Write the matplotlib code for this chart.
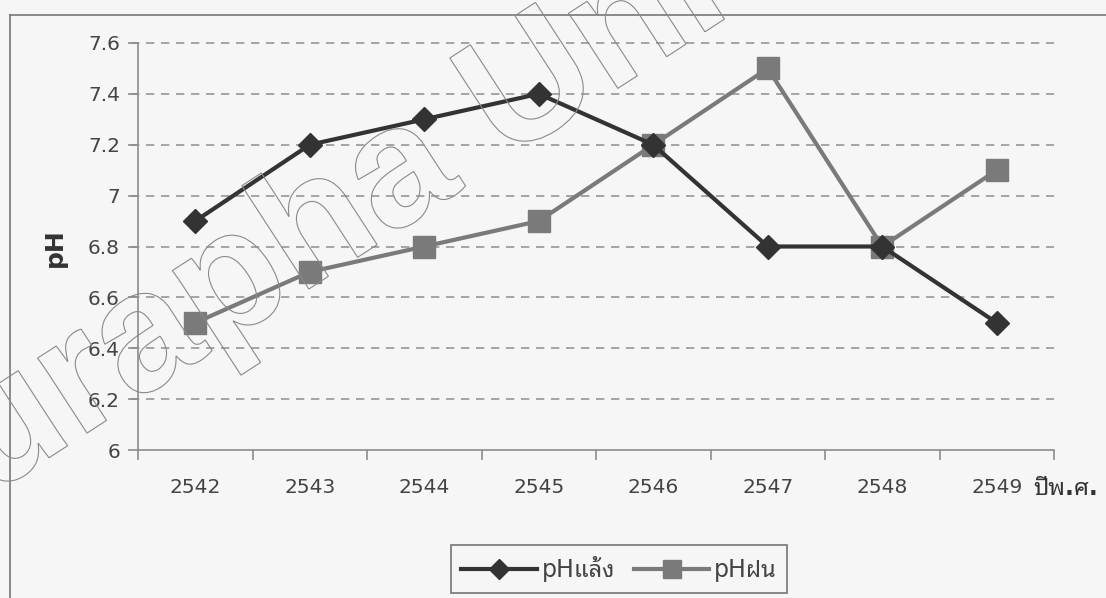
import matplotlib
matplotlib.use("Agg")
import matplotlib.pyplot as plt
from matplotlib import font_manager
from matplotlib.textpath import TextPath
from matplotlib.patches import PathPatch
from matplotlib.font_manager import FontProperties
import matplotlib.transforms as mtransforms

# ── Données ────────────────────────────────────────────────────────────
years = ["2542", "2543", "2544", "2545", "2546", "2547", "2548", "2549"]
ph_dry = [6.9, 7.2, 7.3, 7.4, 7.2, 6.8, 6.8, 6.5]     # pHแล้ง
ph_rain = [6.5, 6.7, 6.8, 6.9, 7.2, 7.5, 6.8, 7.1]    # pHฝน
yticks = [6, 6.2, 6.4, 6.6, 6.8, 7, 7.2, 7.4, 7.6]
ytick_labels = ["6", "6.2", "6.4", "6.6", "6.8", "7", "7.2", "7.4", "7.6"]

# police thaï : première famille installée dans la liste
installed = {f.name for f in font_manager.fontManager.ttflist}
thai = next((n for n in ["Noto Sans Thai Looped", "Sarabun", "Noto Sans Thai",
                         "Athiti", "Bai Jamjuree"] if n in installed), "DejaVu Sans")
FAM = ["DejaVu Sans", thai]

TXT = "#444444"
AX = "#8c8c8c"
W, H = 1106, 598

fig = plt.figure(figsize=(W / 100, H / 100), dpi=100)
fig.patch.set_facecolor("#f6f6f6")

# cadre extérieur (coupé à droite et en bas)
fig.add_artist(plt.Line2D([10 / W, 10 / W], [0, 1 - 15 / H],
                          transform=fig.transFigure, color="#777777", lw=1.2))
fig.add_artist(plt.Line2D([10 / W, 1], [1 - 15 / H, 1 - 15 / H],
                          transform=fig.transFigure, color="#777777", lw=1.2))

ax = fig.add_axes([138 / W, 148 / H, 916 / W, 407 / H])
ax.set_facecolor("none")
x = list(range(len(years)))

ax.plot(x, ph_dry, color="#333333", lw=3, marker="D", ms=12.5,
        label="pHแล้ง", zorder=4)
ax.plot(x, ph_rain, color="#7a7a7a", lw=3, marker="s", ms=16,
        label="pHฝน", zorder=3)

ax.set_xlim(-0.5, len(years) - 0.5)
ax.set_ylim(6, 7.6)
ax.set_yticks(yticks)
ax.set_yticklabels(ytick_labels)
for yv in yticks[1:]:
    ax.axhline(yv, xmin=-0.008, color="#969696", lw=1.2, ls=(0, (5, 4)),
               clip_on=False, zorder=1)

# graduations x aux frontières, libellés au centre
ax.set_xticks([i - 0.5 for i in range(len(years) + 1)])
ax.set_xticklabels([])
ax.set_xticks(x, minor=True)
ax.set_xticklabels(years, minor=True)
ax.tick_params(axis="x", which="major", length=7, width=1.2, color=AX, direction="out")
ax.tick_params(axis="x", which="minor", length=0, pad=20, labelsize=14.5, labelcolor=TXT)
ax.tick_params(axis="y", length=7, width=1.2, color=AX, pad=6,
               labelsize=14.5, labelcolor=TXT)

for s in ["top", "right"]:
    ax.spines[s].set_visible(False)
for s in ["left", "bottom"]:
    ax.spines[s].set_color(AX)
    ax.spines[s].set_linewidth(1.2)

fig.text(55 / W, 1 - 248 / H, "pH", rotation=90, ha="center", va="center",
         fontsize=18, fontweight="bold", color="#333333")
fig.text(1033 / W, 1 - 488 / H, "ปีพ.ศ.", ha="left", va="center",
         fontsize=17, fontweight="bold", color="#333333", family=FAM)

leg = fig.legend(loc="center", bbox_to_anchor=(619 / W, 1 - 569 / H),
                 ncol=2, frameon=True, fancybox=False, edgecolor="#555555",
                 prop=FontProperties(family=FAM, size=17), handlelength=3.2,
                 columnspacing=0.8, handletextpad=0.2, borderpad=0.45,
                 labelcolor=TXT, markerscale=0.85)
leg.get_frame().set_linewidth(1.2)
leg.get_frame().set_facecolor("none")

# filigrane en contour
tp = TextPath((0, 0), "Burapha University",
              prop=FontProperties(family="Liberation Sans", weight="bold"), size=170)
tr = mtransforms.Affine2D().rotate_deg(33).translate(-113, H - 563)
patch = PathPatch(tr.transform_path(tp), facecolor="none", edgecolor="#8a8a8a",
                  lw=0.8, transform=mtransforms.IdentityTransform(), zorder=10)
fig.add_artist(patch)

fig.savefig("out.png", dpi=100, facecolor=fig.get_facecolor())
